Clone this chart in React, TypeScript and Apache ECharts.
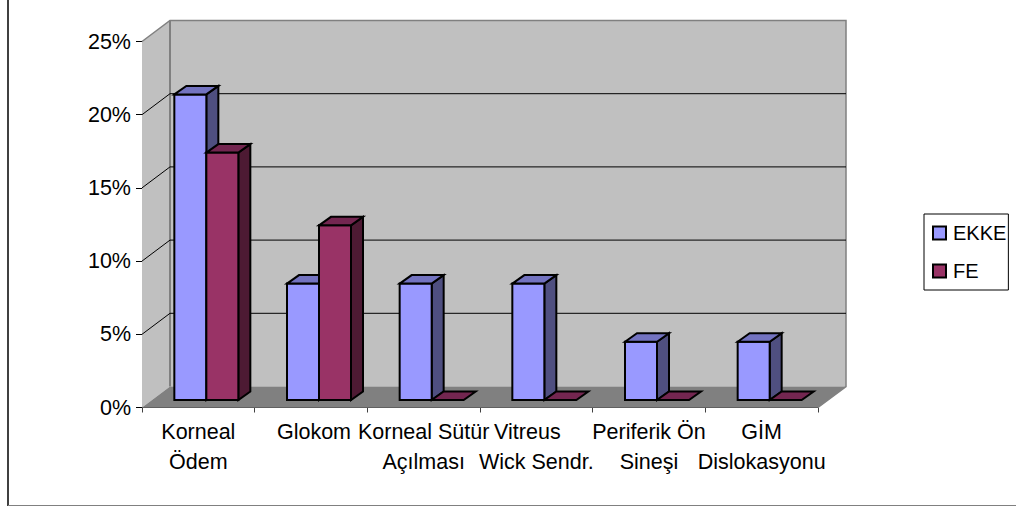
import React, { useEffect, useRef } from "react";
import * as echarts from "echarts";

const categories = [
  "Korneal\nÖdem",
  " Glokom",
  "Korneal Sütür\nAçılması",
  "Vitreus   \nWick Sendr.",
  "Periferik Ön\nSineşi",
  "GİM\nDislokasyonu",
];
const ekkeValues = [21, 8, 8, 8, 4, 4];
const feValues = [17, 12, 0, 0, 0, 0];
const yTicks = [0, 5, 10, 15, 20, 25];

const FONT = '"Liberation Sans", Arial, sans-serif';
const FONT_SIZE = 21.5;
const LEGEND_FONT_SIZE = 20;

// Oblique offset between the front of the plot box and its back wall.
const BOX_DX = 28;
const BOX_DY = -21;
// Where the bars stand inside the box, and how deep they are.
const BAR_SHIFT_X = 8;
const BAR_SHIFT_Y = -7.5;
const BAR_WIDTH = 32;
const BAR_DX = 12;
const BAR_DY = -8.5;
// Bars sit further back than the front axis, so they foreshorten slightly.
const BAR_FORESHORTEN = 0.994;

const PALETTE = {
  ekke: { front: "#9999FF", top: "#7373C0", side: "#4F4F80" },
  fe: { front: "#993366", top: "#732650", side: "#4D1A33" },
};

type Pt = number[];

const poly = (points: Pt[], fill: string, stroke: string, lineWidth: number) => ({
  type: "polygon",
  shape: { points },
  style: { fill, stroke, lineWidth, lineJoin: "miter" },
});

// Back wall, side wall and floor of the box.
function renderBox(params: any) {
  const { x, y, width, height } = params.coordSys;
  const r = x + width;
  const b = y + height;
  const bx = BOX_DX;
  const by = BOX_DY;
  return {
    type: "group",
    children: [
      poly([[x + bx, y + by], [r + bx, y + by], [r + bx, b + by], [x + bx, b + by]], "#C0C0C0", "none", 0),
      poly([[x, y], [x + bx, y + by], [x + bx, b + by], [x, b]], "#C0C0C0", "none", 0),
      poly([[x, b], [x + bx, b + by], [r + bx, b + by], [r, b]], "#808080", "none", 0),
      {
        type: "polyline",
        shape: { points: [[x, y], [x + bx, y + by], [r + bx, y + by], [r + bx, b + by], [r, b]] },
        style: { fill: "none", stroke: "#808080", lineWidth: 1.5 },
      },
      {
        type: "line",
        shape: { x1: x + bx, y1: y + by, x2: x + bx, y2: b + by },
        style: { stroke: "#808080", lineWidth: 2 },
      },
    ],
  };
}

// One gridline, folded from the side wall onto the back wall.
function renderGridline(params: any, api: any) {
  const value = api.value(1);
  if (value === 0 || value === 25) return null;
  const { x, width } = params.coordSys;
  const yy = api.coord([0, value])[1];
  return {
    type: "polyline",
    shape: {
      points: [[x, yy], [x + BOX_DX, yy + BOX_DY], [x + width + BOX_DX, yy + BOX_DY]],
    },
    style: { fill: "none", stroke: "#000", lineWidth: 1 },
  };
}

// A single block: right face, front face, top face.
function makeBarRenderer(colors: { front: string; top: string; side: string }, side: number) {
  return (_params: any, api: any) => {
    const cat = api.value(0);
    const [cx, vy] = api.coord([cat, api.value(1)]);
    const [, zeroY] = api.coord([cat, 0]);
    const x0 = cx + BAR_SHIFT_X + (side < 0 ? -BAR_WIDTH : 0);
    const x1 = x0 + BAR_WIDTH;
    const base = zeroY + BAR_SHIFT_Y;
    const top = base - (zeroY - vy) * BAR_FORESHORTEN;
    const lw = 2;
    const children: any[] = [];
    if (base - top > 0.5) {
      children.push(
        poly([[x1, top], [x1 + BAR_DX, top + BAR_DY], [x1 + BAR_DX, base + BAR_DY], [x1, base]], colors.side, "#000", lw),
      );
      children.push(poly([[x0, top], [x1, top], [x1, base], [x0, base]], colors.front, "#000", lw));
    }
    children.push(
      poly([[x0, top], [x0 + BAR_DX, top + BAR_DY], [x1 + BAR_DX, top + BAR_DY], [x1, top]], colors.top, "#000", lw),
    );
    return { type: "group", children };
  };
}

export default function App() {
  const ref = useRef<HTMLDivElement>(null);

  useEffect(() => {
    if (!ref.current) return;
    const chart = echarts.init(ref.current, undefined, { renderer: "svg" });
    chart.setOption({
      animation: false,
      backgroundColor: "#fff",
      textStyle: { fontFamily: FONT, fontSize: FONT_SIZE, color: "#000" },
      grid: { left: 142, top: 41.5, width: 676, height: 366, containLabel: false },
      xAxis: {
        type: "category",
        data: categories,
        boundaryGap: true,
        axisLine: { show: true, lineStyle: { color: "#404040", width: 1 } },
        axisTick: { show: true, length: 5, alignWithLabel: false, lineStyle: { color: "#404040", width: 1 } },
        axisLabel: {
          interval: 0,
          hideOverlap: false,
          margin: 9,
          color: "#000",
          fontFamily: FONT,
          fontSize: FONT_SIZE,
          lineHeight: 30,
        },
        splitLine: { show: false },
      },
      yAxis: {
        type: "value",
        min: 0,
        max: 25,
        interval: 5,
        axisLine: { show: true, lineStyle: { color: "#000", width: 1 } },
        axisTick: { show: true, length: 6, lineStyle: { color: "#000", width: 1 } },
        axisLabel: {
          margin: 11,
          color: "#000",
          fontFamily: FONT,
          fontSize: FONT_SIZE,
          formatter: "{value}%",
        },
        splitLine: { show: false },
      },
      legend: {
        orient: "vertical",
        left: 924,
        top: 214,
        padding: [9, 2, 9, 8],
        itemGap: 18,
        itemWidth: 13,
        itemHeight: 13,
        borderColor: "#000",
        borderWidth: 1,
        selectedMode: false,
        textStyle: { fontFamily: FONT, fontSize: LEGEND_FONT_SIZE, color: "#000", padding: [0, 0, 0, 2] },
        data: [
          { name: "EKKE", icon: "rect", itemStyle: { color: PALETTE.ekke.front, borderColor: "#000", borderWidth: 2 } },
          { name: "FE", icon: "rect", itemStyle: { color: PALETTE.fe.front, borderColor: "#000", borderWidth: 2 } },
        ],
      },
      graphic: [
        // Frame of the chart area: left and bottom rules only.
        { type: "line", z: 100, shape: { x1: 8, y1: 0, x2: 8, y2: 506 }, style: { stroke: "#000", lineWidth: 1.5 } },
        { type: "line", z: 100, shape: { x1: 8, y1: 505.5, x2: 1016, y2: 505.5 }, style: { stroke: "#808080", lineWidth: 1 } },
      ],
      series: [
        {
          name: "box",
          type: "custom",
          z: 1,
          silent: true,
          clip: false,
          data: [[0, 0]],
          encode: { x: 0, y: 1 },
          renderItem: renderBox,
        },
        {
          name: "grid",
          type: "custom",
          z: 2,
          silent: true,
          clip: false,
          data: yTicks.map((v) => [0, v]),
          encode: { x: 0, y: 1 },
          renderItem: renderGridline,
        },
        {
          name: "EKKE",
          type: "custom",
          z: 3,
          clip: false,
          itemStyle: { color: PALETTE.ekke.front },
          data: ekkeValues.map((v, i) => [i, v]),
          encode: { x: 0, y: 1 },
          renderItem: makeBarRenderer(PALETTE.ekke, -1),
        },
        {
          name: "FE",
          type: "custom",
          z: 4,
          clip: false,
          itemStyle: { color: PALETTE.fe.front },
          data: feValues.map((v, i) => [i, v]),
          encode: { x: 0, y: 1 },
          renderItem: makeBarRenderer(PALETTE.fe, 1),
        },
      ],
    });
    return () => chart.dispose();
  }, []);

  return <div ref={ref} style={{ position: "fixed", left: 0, top: 0, width: 1016, height: 506 }} />;
}
